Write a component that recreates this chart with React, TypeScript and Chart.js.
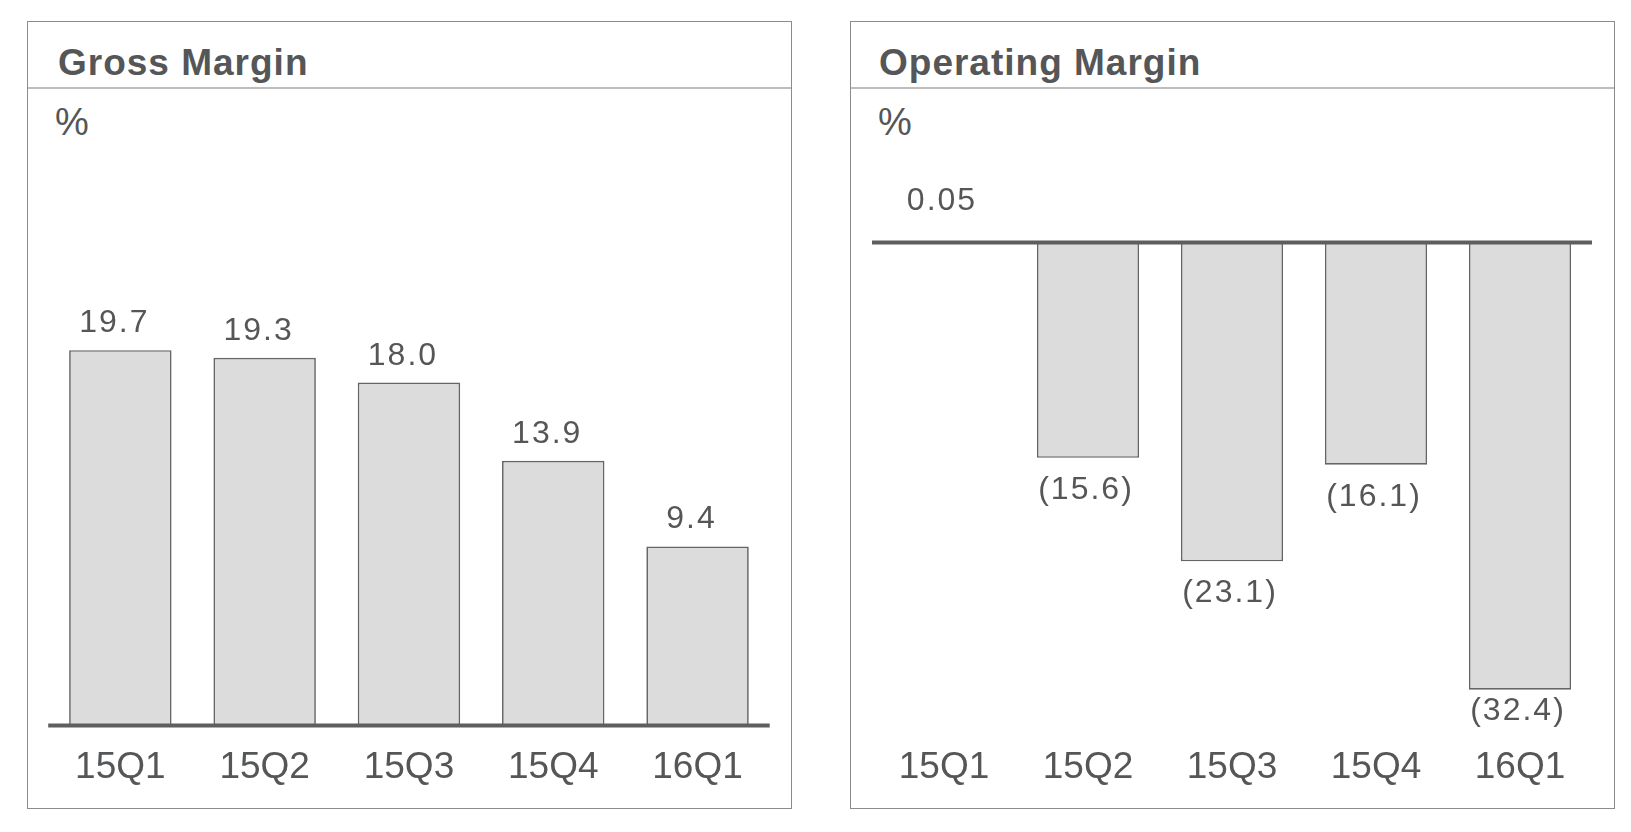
import React, { useEffect, useRef } from "react";
import { Chart, registerables } from "chart.js";

Chart.register(...registerables);

// ---- data ----
const quarters: string[] = ["15Q1", "15Q2", "15Q3", "15Q4", "16Q1"];
const grossMargin: number[] = [19.7, 19.3, 18.0, 13.9, 9.4];
const operatingMargin: number[] = [0.05, -15.6, -23.1, -16.1, -32.4];
const grossTitle = "Gross Margin";
const operatingTitle = "Operating Margin";
const unitLabel = "%";

const FONT = "'Liberation Sans', Arial, Helvetica, sans-serif";
const TEXT = "#555658";

function fmt(v: number): string {
  const a = Math.abs(v);
  const oneDec = Math.abs(a * 10 - Math.round(a * 10)) < 1e-9;
  const s = oneDec ? a.toFixed(1) : String(a);
  return v < 0 ? `(${s})` : s;
}

const decorPlugin = {
  id: "marginDecor",
  afterDatasetsDraw(chart: any, _args: any, opts: any) {
    const { ctx, chartArea } = chart;
    const y = chart.scales.y;
    const y0 = y.getPixelForValue(0);
    ctx.save();
    ctx.strokeStyle = "#5e5e5e";
    ctx.lineWidth = 4;
    ctx.beginPath();
    ctx.moveTo(chartArea.left, y0);
    ctx.lineTo(chartArea.right, y0);
    ctx.stroke();

    const meta = chart.getDatasetMeta(0);
    const data = chart.data.datasets[0].data as number[];
    ctx.font = `32px ${FONT}`;
    ctx.fillStyle = TEXT;
    ctx.textAlign = "center";
    ctx.textBaseline = "alphabetic";
    (ctx as any).letterSpacing = "2px";
    const dx = opts.labelDx ?? 0;
    meta.data.forEach((bar: any, i: number) => {
      const v = data[i];
      let yy: number;
      if (v >= 0) yy = bar.y - (opts.posGap ?? 18);
      else yy = Math.min(bar.y + 41, chartArea.bottom - 6);
      ctx.fillText(fmt(v), bar.x + dx, yy);
    });
    ctx.restore();
  },
};

type PanelProps = {
  left: number;
  title: string;
  titleLeft: number;
  values: number[];
  min: number;
  max: number;
  posGap: number;
  labelDx: number;
  padL: number;
  padR: number;
};

function Panel({ left, title, titleLeft, values, min, max, posGap, labelDx, padL, padR }: PanelProps) {
  const ref = useRef<HTMLCanvasElement | null>(null);

  useEffect(() => {
    if (!ref.current) return;
    const chart = new Chart(ref.current, {
      type: "bar",
      data: {
        labels: quarters,
        datasets: [
          {
            data: values,
            backgroundColor: "#dcdcdc",
            borderColor: "#666666",
            borderWidth: 1.7,
            borderSkipped: false,
            barPercentage: 0.71,
            categoryPercentage: 1,
          },
        ],
      },
      options: {
        animation: false,
        responsive: false,
        events: [],
        layout: { padding: { left: padL, right: padR, top: 20, bottom: 0 } },
        plugins: {
          legend: { display: false },
          tooltip: { enabled: false },
          marginDecor: { posGap, labelDx },
        } as any,
        scales: {
          x: {
            grid: { display: false, drawTicks: false },
            border: { display: false },
            ticks: { color: TEXT, font: { family: FONT, size: 37 }, padding: 20 },
          },
          y: { display: false, min, max },
        },
      },
      plugins: [decorPlugin],
    });
    return () => chart.destroy();
  }, []);

  return (
    <div
      style={{
        position: "absolute",
        left,
        top: 21,
        width: 765,
        height: 788,
        boxSizing: "border-box",
        border: "1px solid #8c8c8c",
        background: "#fff",
      }}
    >
      <div
        style={{
          position: "absolute",
          left: titleLeft,
          top: 22,
          fontFamily: FONT,
          fontWeight: "bold",
          fontSize: 37,
          lineHeight: "37px",
          letterSpacing: "1px",
          color: TEXT,
          whiteSpace: "nowrap",
        }}
      >
        {title}
      </div>
      <div
        style={{
          position: "absolute",
          left: 0,
          right: 0,
          top: 65,
          height: 2,
          background: "#bdbdbd",
        }}
      />
      <div
        style={{
          position: "absolute",
          left: 27,
          top: 81,
          fontFamily: FONT,
          fontSize: 38,
          lineHeight: "38px",
          color: TEXT,
        }}
      >
        {unitLabel}
      </div>
      <canvas
        ref={ref}
        width={762}
        height={720}
        style={{ position: "absolute", left: 0, top: 68, width: 762, height: 720 }}
      />
    </div>
  );
}

export default function App() {
  return (
    <div style={{ position: "absolute", left: 0, top: 0, width: 1631, height: 832, background: "#fff" }}>
      <Panel
        left={27}
        title={grossTitle}
        titleLeft={30}
        values={grossMargin}
        min={0}
        max={32.3}
        posGap={18}
        labelDx={-6}
        padL={20.2}
        padR={20.3}
      />
      <Panel
        left={850}
        title={operatingTitle}
        titleLeft={28}
        values={operatingMargin}
        min={-35.0}
        max={9.6}
        posGap={32}
        labelDx={-2}
        padL={21}
        padR={21}
      />
    </div>
  );
}
